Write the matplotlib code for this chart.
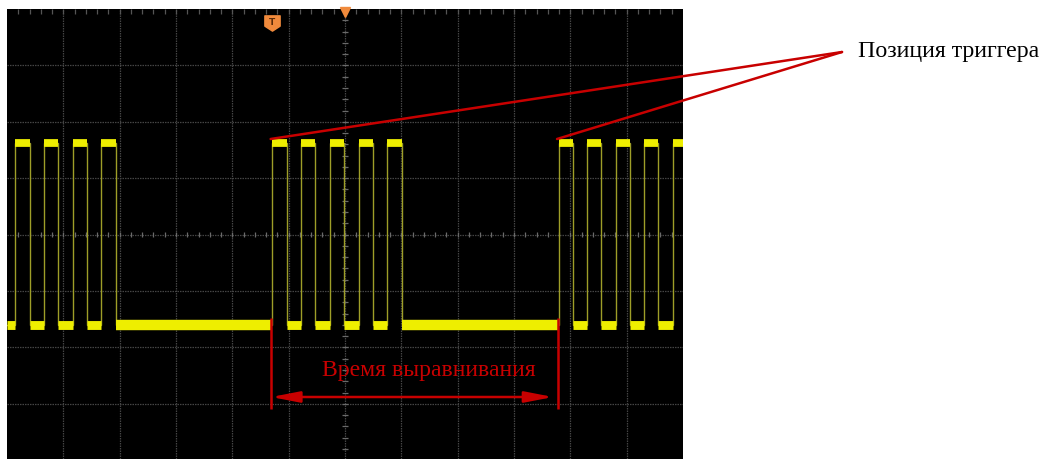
import matplotlib
matplotlib.use("Agg")
import matplotlib.pyplot as plt
from matplotlib.path import Path
import numpy as np

# ---- data (time in horizontal divisions from left edge, level in vertical divisions) ----
rise_times = [0.142, 0.657, 1.163, 1.669,
              4.710, 5.219, 5.734, 6.243, 6.751,
              9.794, 10.302, 10.806, 11.308, 11.818]
fall_times = [0.408, 0.911, 1.426, 1.935,
              4.965, 5.468, 5.983, 6.492, 7.007,
              10.043, 10.545, 11.060, 11.562, 12.30]
high_level = 1.625
low_level = -1.61
trigger_times = [4.710, 9.794]
label_trigger = "Позиция триггера"
label_holdoff = "Время выравнивания"

W, H = 1043, 460
fig = plt.figure(figsize=(W / 100, H / 100), dpi=100)
fig.patch.set_facecolor("white")

ax_left, ax_right, ax_top, ax_bottom = 7, 683, 10, 460
ax = fig.add_axes([ax_left / W, 1 - ax_bottom / H, (ax_right - ax_left) / W, (ax_bottom - ax_top) / H])
ax.set_facecolor("black")
ax.set_xlim(0, 12)
ypx = 56.4
ax.set_ylim(4 - (ax_bottom - ax_top) / ypx, 4)
ax.set_xticks([]); ax.set_yticks([])
for s in ax.spines.values():
    s.set_visible(False)

# grid
grid_col = "#444444"
for gx in range(1, 12):
    ax.axvline(gx, color=grid_col, lw=0.9, ls=(0, (1.2, 0.8)), zorder=1)
for gy in range(-3, 4):
    ax.axhline(gy, color=grid_col, lw=0.9, ls=(0, (1.2, 0.8)), zorder=1)

# center-line minor ticks and top edge ticks
tick_col = "#6a6a6a"
minor_x = np.arange(0.2, 12, 0.2)
minor_y = np.arange(-3.8, 4, 0.2)
ax.vlines(minor_x, -0.05, 0.05, color=tick_col, lw=0.9, zorder=1.5)
ax.hlines(minor_y, 6 - 0.055, 6 + 0.055, color=tick_col, lw=0.9, zorder=1.5)
ax.vlines(minor_x, 4 - 0.08, 4, color="#555555", lw=0.9, zorder=1.5)

# signal: thin edges
xs, ys = [0.0], [low_level]
for r, f in zip(rise_times, fall_times):
    xs += [r, r, f, f]
    ys += [low_level, high_level, high_level, low_level]
ax.plot(xs, ys, color="#9e9e28", lw=1.0, zorder=3, solid_joinstyle="miter")

# bright plateaus
yel = "#eeee00"
ax.hlines([high_level] * len(rise_times), rise_times, fall_times, color=yel, lw=5.6, zorder=4,
          capstyle="butt")
low_starts = [0.0] + fall_times[:-1]
low_ends = rise_times
widths = [7.5 if (e - s) > 1 else 6.4 for s, e in zip(low_starts, low_ends)]
for s, e, w in zip(low_starts, low_ends, widths):
    ax.hlines(low_level, s, e, color=yel, lw=w, zorder=4, capstyle="butt")

# trigger marker "T" and horizontal position triangle
shield = Path([(-1, 1), (1, 1), (1, -0.35), (0, -1), (-1, -0.35), (-1, 1)],
              [Path.MOVETO, Path.LINETO, Path.LINETO, Path.LINETO, Path.LINETO, Path.CLOSEPOLY])
ax.plot([trigger_times[0]], [3.76], marker=shield, ms=11, color="#f08a3c", mec="#f08a3c",
        zorder=6, clip_on=False)
ax.text(trigger_times[0], 3.78, "T", color="#5a2a08", fontsize=6.5, fontweight="bold",
        ha="center", va="center", zorder=7)
ax.plot([6], [3.955], marker="v", ms=7, color="#f08a3c", zorder=6, clip_on=False)

# red annotations
red = "#c80000"
conv = (842 / W, 1 - 53 / H)
for t in trigger_times:
    ax.annotate("", xy=(t - 0.03, high_level + 0.07), xycoords="data",
                xytext=conv, textcoords="figure fraction",
                arrowprops=dict(arrowstyle="-", color=red, lw=1.8, shrinkA=0, shrinkB=0),
                annotation_clip=False, zorder=8)
fig.text(858 / W, 1 - 57 / H, label_trigger, fontsize=17.2, family="Liberation Serif",
         color="black", ha="left", va="baseline")

v_top = low_level + 0.14
v_bot = 4 - (410 - ax_top) / ypx
for t in trigger_times:
    ax.vlines(t - 0.02, v_bot, v_top, color=red, lw=1.8, zorder=8)
arrow_y = 4 - (398 - ax_top) / ypx
ax.annotate("", xy=(trigger_times[0] - 0.02, arrow_y), xytext=(trigger_times[1] - 0.1, arrow_y),
            arrowprops=dict(arrowstyle="<|-|>,head_length=1.7,head_width=0.33", mutation_scale=10,
                            color=red, lw=1.8, shrinkA=0, shrinkB=0), zorder=8)
ax.text((321.7 - ax_left) / 676 * 12, 4 - (376 - ax_top) / ypx, label_holdoff, fontsize=17.1,
        family="Liberation Serif", color=red, ha="left", va="baseline", zorder=9)

fig.savefig("out.png", dpi=100, facecolor="white")
